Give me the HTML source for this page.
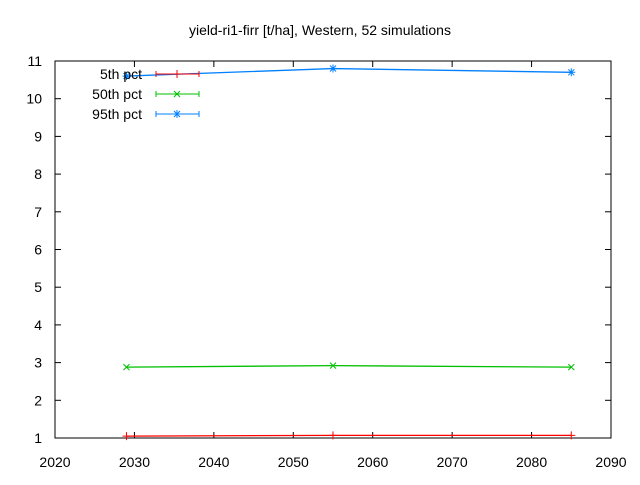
<!DOCTYPE html>
<html><head><meta charset="utf-8"><style>
body{margin:0;background:#fff}
svg text{font-family:"Liberation Sans",sans-serif;font-size:14px;fill:#000}
</style></head><body>
<svg width="640" height="480" id="c">
<rect width="640" height="480" fill="#fff"/>
<text x="320" y="35" text-anchor="middle">yield-ri1-firr [t/ha], Western, 52 simulations</text>
<rect x="55" y="61" width="556" height="377" fill="none" stroke="#000"/>
<g id="axes"></g><g id="series"></g><g id="legend"></g>
</svg>
<script>
const xTicks=[2020,2030,2040,2050,2060,2070,2080,2090];
const yTicks=[1,2,3,4,5,6,7,8,9,10,11];
const years=[2029,2055,2085];
const p5=[1.05,1.07,1.07];
const p50=[2.88,2.92,2.88];
const p95=[10.6,10.8,10.7];
const names=["5th pct","50th pct","95th pct"];
const NS="http://www.w3.org/2000/svg";
const X=v=>55+(v-2020)*556/70, Y=v=>438-(v-1)*377/10;
function mk(t,a,p){const e=document.createElementNS(NS,t);for(const k in a)e.setAttribute(k,a[k]);p.appendChild(e);return e;}
const ax=document.getElementById('axes');
xTicks.forEach(v=>{const x=X(v);
mk('line',{x1:x,x2:x,y1:438,y2:432,stroke:'#000'},ax);mk('line',{x1:x,x2:x,y1:61,y2:67,stroke:'#000'},ax);
const t=mk('text',{x:x,y:467,'text-anchor':'middle'},ax);t.textContent=v;

});
yTicks.forEach(v=>{const y=Y(v);
mk('line',{x1:55,x2:61,y1:y,y2:y,stroke:'#000'},ax);mk('line',{x1:611,x2:605,y1:y,y2:y,stroke:'#000'},ax);
const t=mk('text',{x:42,y:y+5,'text-anchor':'end'},ax);t.textContent=v;

});
const cols=['#ff0000','#00c000','#0080ff'];
const sg=document.getElementById('series'),lg=document.getElementById('legend');
function marker(i,x,y,g){const c=cols[i];
if(i==0){mk('path',{d:`M${x-4},${y}H${x+4}M${x},${y-4}V${y+4}`,stroke:c},g);}
else if(i==1){mk('path',{d:`M${x-3},${y-3}L${x+3},${y+3}M${x-3},${y+3}L${x+3},${y-3}`,stroke:c},g);}
else{mk('path',{d:`M${x-4},${y}H${x+4}M${x},${y-4}V${y+4}M${x-3},${y-3}L${x+3},${y+3}M${x-3},${y+3}L${x+3},${y-3}`,stroke:c},g);}}
[p5,p50,p95].forEach((s,i)=>{
const g=mk('g',{},sg);


mk('polyline',{points:years.map((y,j)=>X(y)+','+Y(s[j])).join(' '),fill:'none',stroke:cols[i],'stroke-width':1.3},g);
years.forEach((y,j)=>marker(i,X(y),Y(s[j]),g));
const ly=74+i*20;
const le=mk('g',{},lg);


const t=mk('text',{x:142,y:ly+5,'text-anchor':'end'},le);t.textContent=names[i];
mk('path',{d:`M156,${ly}H199M156,${ly-3}V${ly+3}M199,${ly-3}V${ly+3}`,stroke:cols[i],fill:'none'},le);
marker(i,177,ly,le);});
</script>
</body></html>
